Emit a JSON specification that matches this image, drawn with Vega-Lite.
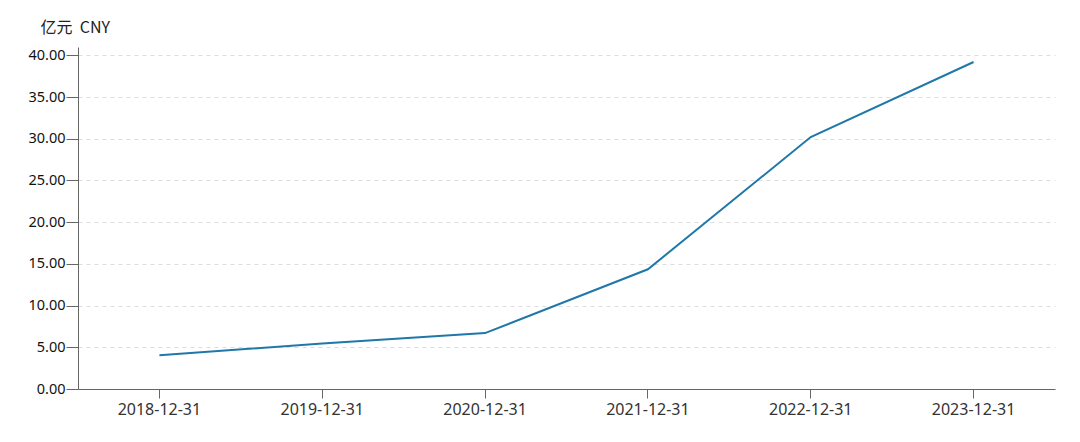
{
  "$schema": "https://vega.github.io/schema/vega-lite/v6.json",
  "width": 977,
  "height": 342,
  "autosize": {"type": "none"},
  "padding": {"left": 78, "top": 47, "right": 25, "bottom": 53},
  "background": "#ffffff",
  "data": {"values": [
    {"date": "2018-12-31", "value": 4.05},
    {"date": "2019-12-31", "value": 5.45},
    {"date": "2020-12-31", "value": 6.7},
    {"date": "2021-12-31", "value": 14.35},
    {"date": "2022-12-31", "value": 30.2},
    {"date": "2023-12-31", "value": 39.2}
  ]},
  "mark": {"type": "line", "color": "#1f78a8", "strokeWidth": 2, "interpolate": "linear"},
  "encoding": {
    "x": {
      "field": "date", "type": "ordinal",
      "scale": {"type": "band", "paddingInner": 0, "paddingOuter": 0},
      "axis": {
        "title": null, "labelAngle": 0, "labelFont": "Noto Sans", "labelFontSize": 16,
        "labelColor": "#333333", "labelPadding": 3, "tickSize": 9, "tickColor": "#666666",
        "domainColor": "#666666", "grid": false
      }
    },
    "y": {
      "field": "value", "type": "quantitative",
      "scale": {"domain": [0, 41], "nice": false},
      "axis": {
        "values": [0, 5, 10, 15, 20, 25, 30, 35, 40],
        "format": ".2f",
        "title": "亿元\u00a0\u00a0CNY",
        "titleAngle": 0, "titleX": -38, "titleY": -15, "titleAlign": "left", "titleBaseline": "alphabetic",
        "titleFont": "Noto Sans CJK SC", "titleFontSize": 16, "titleFontWeight": "normal", "titleColor": "#222222",
        "labelFont": "Noto Sans", "labelFontSize": 14.5, "labelColor": "#111111", "labelPadding": 1,
        "tickSize": 12, "tickColor": "#666666", "domainColor": "#666666",
        "grid": true, "gridColor": "#dddddd", "gridDash": [4, 4], "gridWidth": 1
      }
    }
  },
  "config": {"view": {"stroke": null}}
}
